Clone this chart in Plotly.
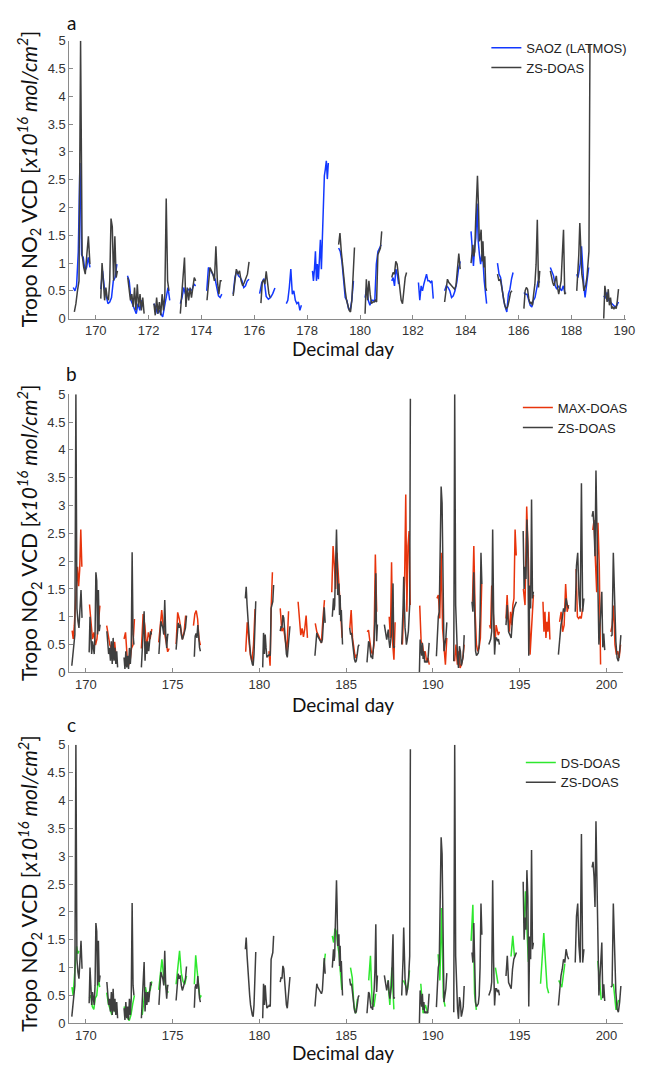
import numpy as np
import plotly.graph_objects as go

# ---------------- DATA ----------------
# ZS-DOAS (one daily segment per entry: start day, end day, values evenly sampled)
zs_start = [169.19, 170.19, 171.21, 172.20, 173.20, 174.21, 175.20, 176.25, 179.19, 180.19,
            181.20, 183.20, 184.20, 185.20, 186.20, 187.20, 188.20, 189.22, 190.20, 191.20,
            192.25, 193.22, 194.21, 195.20, 197.23, 198.20, 199.17, 200.25]
zs_end = [169.78, 170.82, 171.83, 172.77, 173.78, 174.77, 175.80, 176.60, 179.79, 180.82,
          181.76, 183.79, 184.79, 185.75, 186.80, 187.79, 188.70, 189.78, 190.80, 191.80,
          192.82, 193.83, 194.81, 195.79, 197.82, 198.70, 199.90, 200.83]
zs_vals = [
    [0.12, 0.27, 0.5, 0.68, 5.0, 1.15, 0.92, 0.8, 1.15, 1.48, 0.98],
    [0.36, 1.0, 0.68, 0.33, 0.56, 0.38, 0.33, 0.68, 1.8, 1.65, 0.68, 1.48, 0.74, 0.86],
    [0.74, 0.5, 0.33, 0.44, 0.21, 0.56, 0.15, 0.62, 0.21, 0.44, 0.15, 0.38, 0.09],
    [0.27, 0.06, 0.38, 0.09, 0.3, 0.06, 0.44, 0.15, 0.44, 2.16, 0.68, 0.5],
    [0.09, 0.44, 0.71, 1.1, 0.21, 0.56, 0.33, 0.56, 0.38, 0.62, 0.74, 0.68],
    [0.33, 0.62, 0.92, 0.86, 0.8, 0.68, 1.3, 0.68, 0.44, 0.68, 0.68],
    [0.41, 0.71, 0.89, 0.8, 0.86, 0.68, 0.59, 0.65, 0.71, 0.8, 1.02],
    [0.28, 0.65, 0.7, 0.62, 0.85, 0.6, 0.45, 0.38],
    [1.33, 1.54, 1.21, 0.92, 0.74, 0.5, 0.33, 0.21, 0.15, 0.12, 0.33, 0.8, 1.28],
    [0.09, 0.71, 0.33, 0.68, 0.44, 0.27, 0.3, 0.3, 0.33, 0.3, 1.15, 1.21, 1.27, 1.57],
    [0.74, 0.83, 0.8, 1.03, 0.98, 0.74, 0.5, 0.33, 0.27, 0.5, 0.74, 0.83],
    [0.3, 0.56, 0.71, 0.65, 0.62, 0.59, 0.56, 0.53, 0.59, 0.98, 1.17, 0.89],
    [1.0, 1.21, 1.33, 1.12, 1.21, 1.74, 2.16, 2.57, 2.09, 1.39, 1.45, 1.6, 1.03, 1.39, 0.92, 1.12, 0.56, 0.5],
    [0.8, 0.68, 0.71, 0.53, 0.38, 0.24, 0.18, 0.21, 0.33, 0.47, 0.5],
    [0.18, 0.5, 0.56, 0.53, 0.36, 0.27, 0.3, 0.24, 0.44, 0.62, 0.98, 1.78, 0.56, 0.86],
    [0.86, 0.74, 0.65, 0.59, 0.68, 0.77, 0.56, 0.44, 0.56, 0.68, 1.15, 1.6, 0.44, 0.47],
    [0.5, 0.74, 1.15, 1.72, 1.15, 0.8, 0.68, 0.5, 0.56, 0.62, 0.74, 0.98, 1.21, 4.92],
    [0.0, 0.59, 0.44, 0.3, 0.53, 0.24, 0.38, 0.18, 0.21, 0.18, 0.21, 0.18, 0.33, 0.53],
    [0.29, 0.85, 1.0, 1.09, 2.18, 3.34, 3.04, 2.0, 0.38, 0.5, 0.62, 0.9],
    [0.2, 5.0, 1.21, 0.5, 0.26, 0.08, 0.47, 0.38, 0.12, 0.2, 0.3, 0.67],
    [1.27, 1.09, 1.8, 0.85, 0.38, 0.3, 0.32, 0.35, 0.5, 1.0, 2.15, 1.59],
    [0.5, 0.56, 0.6, 0.74, 2.57, 1.09, 0.32, 0.62, 0.62, 0.56, 0.6, 0.5],
    [0.85, 1.21, 0.73, 0.67, 0.62, 0.97, 1.15, 1.21, 1.27],
    [2.54, 1.5, 1.9, 1.68, 2.75, 2.27, 0.3, 1.56, 1.15, 3.11, 1.33, 1.45],
    [0.32, 0.62, 0.85, 0.97, 1.15, 1.09, 1.33, 1.21, 1.15],
    [1.09, 1.92, 2.15, 1.39, 1.09, 3.4, 1.09, 1.33],
    [2.8, 2.9, 2.63, 2.09, 3.63, 2.27, 1.56, 0.5, 0.8, 1.15, 1.45, 0.45, 0.7, 0.4],
    [0.65, 0.67, 2.15, 1.09, 0.56, 0.26, 0.2, 0.38, 0.67],
]

# SAOZ (LATMOS)
saoz_start = [169.15, 170.19, 171.20, 172.20, 173.20, 174.20, 175.20, 176.20, 177.21, 178.20,
              179.19, 180.19, 181.20, 182.21, 183.20, 184.20, 185.20, 186.20, 187.20, 188.20, 189.22]
saoz_end = [169.78, 170.80, 171.80, 172.80, 173.78, 174.77, 175.80, 176.78, 177.78, 178.80,
            179.75, 180.80, 181.46, 182.77, 183.79, 184.79, 185.79, 186.80, 187.75, 188.65, 189.78]
saoz_vals = [
    [0.56, 0.5, 0.6, 1.2, 2.8, 1.15, 1.1, 0.86, 0.92, 1.1, 0.92],
    [0.53, 0.86, 0.56, 0.44, 0.27, 0.3, 0.38, 0.68, 0.74, 0.98],
    [0.77, 0.68, 0.33, 0.24, 0.15, 0.09, 0.27, 0.15, 0.33, 0.21],
    [0.27, 0.21, 0.09, 0.15, 0.09, 0.03, 0.21, 0.38, 0.56, 0.33],
    [0.27, 0.38, 0.56, 0.44, 0.5, 0.53, 0.5, 0.53, 0.62, 0.59],
    [0.5, 0.92, 0.89, 0.83, 0.77, 0.71, 0.56, 0.41, 0.38, 0.44],
    [0.44, 0.74, 0.86, 0.77, 0.74, 0.68, 0.56, 0.59, 0.68, 0.71],
    [0.45, 0.65, 0.72, 0.4, 0.35, 0.38, 0.45, 0.55],
    [0.27, 0.33, 0.56, 0.89, 0.44, 0.5, 0.33, 0.27, 0.3, 0.15, 0.24],
    [0.86, 0.68, 0.89, 1.21, 0.68, 0.98, 0.71, 1.09, 1.42, 0.89, 1.42, 2.1, 2.57, 2.69, 2.84, 2.51, 2.8],
    [1.27, 1.21, 1.03, 0.68, 0.38, 0.33, 0.18, 0.15, 0.33, 0.68],
    [0.38, 0.56, 0.33, 0.24, 0.33, 0.33, 0.3, 0.98, 1.21, 1.27, 1.33],
    [0.68, 0.74, 0.59, 0.89, 0.8, 0.62],
    [0.65, 0.33, 0.59, 0.5, 0.62, 0.74, 0.8, 0.68, 0.68, 0.65, 0.68, 0.36],
    [0.5, 0.59, 0.56, 0.5, 0.38, 0.41, 0.5, 0.65, 0.89, 1.03],
    [1.57, 1.27, 0.95, 1.27, 1.45, 2.07, 1.39, 1.15, 0.98, 1.15, 1.03, 0.68, 0.44, 0.27],
    [1.0, 0.8, 0.74, 0.5, 0.33, 0.21, 0.12, 0.44, 0.53, 0.71, 0.83],
    [0.47, 0.44, 0.44, 0.33, 0.24, 0.21, 0.33, 0.38, 0.56, 0.68, 0.65],
    [0.92, 0.86, 0.77, 0.59, 0.53, 0.59, 0.53, 0.5, 0.59, 0.47],
    [0.8, 0.74, 0.86, 1.0, 1.3, 0.86, 0.59, 0.38, 0.56, 0.74, 0.92],
    [0.41, 0.38, 0.47, 0.33, 0.3, 0.27, 0.24, 0.21, 0.24, 0.3],
]

# MAX-DOAS
max_start = [169.21, 170.21, 171.20, 172.20, 173.20, 174.20, 175.20, 176.20, 179.21, 180.55,
             181.20, 182.23, 183.22, 184.17, 185.21, 186.21, 187.48, 188.24, 189.24, 190.23,
             191.25, 192.28, 193.26, 194.21, 195.21, 196.34, 197.30, 198.25, 199.21, 200.25]
max_end = [169.77, 170.81, 171.75, 172.80, 173.80, 174.80, 175.75, 176.60, 179.75, 180.75,
           181.68, 182.77, 183.75, 184.77, 185.60, 186.76, 187.82, 188.69, 189.79, 190.80,
           191.80, 192.81, 193.83, 194.80, 195.79, 196.74, 197.82, 198.62, 199.66, 200.81]
max_vals = [
    [0.75, 0.6, 0.84, 1.14, 1.55, 1.9, 1.55, 1.85, 2.57, 1.9],
    [1.22, 0.84, 0.6, 0.72, 0.49, 0.6, 0.84, 1.2],
    [0.84, 0.66, 0.49, 0.43, 0.31, 0.55, 0.25],
    [0.6, 0.72, 0.31, 0.13, 0.19, 0.43, 0.49, 0.96],
    [0.43, 1.05, 0.84, 0.43, 0.72, 0.6, 0.78],
    [0.54, 0.9, 1.12, 0.84, 0.72, 0.54, 0.37, 0.43],
    [0.51, 1.08, 0.96, 0.78, 0.6, 0.72, 1.02],
    [0.84, 1.05, 1.11, 0.96, 0.6, 0.49],
    [0.37, 0.9, 0.6, 0.31, 0.19, 0.49, 1.14],
    [0.38, 0.12, 1.2, 1.8],
    [1.15, 0.74, 0.8, 0.62, 0.38, 1.1],
    [1.27, 0.91, 0.67, 0.79, 0.64, 0.79, 1.02, 0.62],
    [0.88, 0.73, 0.67, 0.58, 0.53, 0.97, 1.3],
    [1.44, 2.27, 1.92, 1.5, 2.15, 1.8, 1.44, 1.09, 0.62],
    [0.79, 1.12, 0.62, 0.38, 0.26, 0.32],
    [0.73, 0.76, 0.56, 0.38, 0.32, 0.5, 2.12, 1.09],
    [1.0, 0.62, 1.98, 0.5, 0.23, 0.9],
    [0.5, 1.09, 1.68, 3.2, 1.09, 2.27, 2.54, 1.21],
    [1.2, 0.56, 0.5, 0.32, 0.38, 0.2, 0.26, 0.14],
    [1.33, 1.39, 0.97, 2.15, 0.79, 0.5, 0.14, 0.62],
    [0.2, 0.5, 0.14, 0.38, 0.08, 0.14, 0.26, 0.5],
    [1.27, 2.27, 1.09, 0.5, 0.38, 0.44, 0.62, 1.59],
    [0.85, 0.79, 1.56, 1.15, 0.97, 0.5, 0.85, 0.73, 0.67, 0.73],
    [0.97, 1.39, 0.97, 0.73, 1.09, 0.85, 1.21, 1.33, 2.57, 2.1],
    [1.5, 1.21, 2.98, 2.03, 0.32, 0.97, 1.39],
    [1.27, 0.73, 1.09, 0.62, 0.91, 0.73, 1.09, 0.59],
    [0.91, 1.09, 0.73, 0.85, 1.59, 1.09, 1.21],
    [1.86, 1.0, 0.97, 1.0, 0.97, 1.15],
    [2.56, 2.74, 2.03, 1.44, 2.69, 1.92, 0.14],
    [0.73, 0.85, 1.2, 0.5, 0.32, 0.38, 0.26, 0.5],
]

# DS-DOAS
ds_start = [169.20, 170.20, 171.20, 172.20, 173.25, 174.20, 175.20, 176.25, 183.70, 184.20,
            185.25, 186.30, 187.40, 188.30, 189.30, 190.30, 192.20, 193.60, 194.50, 195.25,
            196.20, 197.25, 199.50, 200.40]
ds_end = [169.60, 170.80, 171.80, 172.80, 173.80, 174.75, 175.80, 176.65, 183.80, 184.75,
          185.65, 186.70, 187.75, 188.65, 189.70, 190.70, 192.50, 193.75, 194.70, 195.50,
          196.67, 197.60, 199.70, 200.70]
ds_vals = [
    [0.65, 0.5, 0.8, 1.2, 1.38, 1.25, 1.3],
    [0.45, 0.5, 0.3, 0.25, 0.45, 0.5, 0.8, 0.65],
    [0.55, 0.35, 0.25, 0.15, 0.3, 0.2, 0.25],
    [0.3, 0.2, 0.1, 0.05, 0.15, 0.35, 0.5],
    [0.15, 0.45, 0.65, 0.5, 0.55, 0.6, 0.75],
    [0.6, 0.95, 1.15, 0.85, 0.7, 0.6, 0.55],
    [0.7, 1.0, 1.3, 0.9, 0.75, 0.7, 0.85],
    [0.7, 1.22, 0.95, 0.75, 0.45, 0.5],
    [1.0, 1.25],
    [1.57, 1.45, 1.7, 1.65, 1.4, 1.24, 0.9, 0.6],
    [1.0, 0.82, 0.3, 0.18, 0.44],
    [0.77, 1.21, 0.35, 0.3, 0.53],
    [0.77, 0.33, 1.0, 0.25],
    [0.77, 0.68, 0.6, 0.95],
    [0.71, 0.18, 0.33, 0.18],
    [1.24, 0.77, 2.07, 0.47, 0.3],
    [1.48, 2.13, 0.53, 0.24],
    [1.0, 0.71],
    [1.2, 1.57, 1.2],
    [1.8, 2.37, 1.7, 1.1],
    [0.71, 1.3, 1.62, 1.12, 0.65, 0.54],
    [0.77, 0.65, 1.07],
    [1.12, 0.83, 0.42],
    [0.71, 0.24, 0.42],
]

ticks_a = [170, 172, 174, 176, 178, 180, 182, 184, 186, 188, 190]
ticks_bc = [170, 175, 180, 185, 190, 195, 200]
y_ticks = [0, 0.5, 1, 1.5, 2, 2.5, 3, 3.5, 4, 4.5, 5]
panel_labels = ["a", "b", "c"]


def build(starts, ends, vals):
    xs, ys = [], []
    for a, b, v in zip(starts, ends, vals):
        xs += list(np.linspace(a, b, len(v)))
        ys += list(v)
        xs.append(None)
        ys.append(None)
    return xs, ys


zs_x, zs_y = build(zs_start, zs_end, zs_vals)
saoz_x, saoz_y = build(saoz_start, saoz_end, saoz_vals)
max_x, max_y = build(max_start, max_end, max_vals)
ds_x, ds_y = build(ds_start, ds_end, ds_vals)

# page body has an 8px default margin: the figure is sized to end at the window edge
OFF = 8
W, H = 645 - OFF, 1071 - OFF
BLUE = "#1238ff"
GRAY = "#3f3f3f"
RED = "#e8340c"
GREEN = "#2ee82e"

fig = go.Figure()
LW = 1.5
fig.add_trace(go.Scatter(x=saoz_x, y=saoz_y, mode="lines", name="SAOZ (LATMOS)",
                         line=dict(color=BLUE, width=LW), xaxis="x", yaxis="y", legend="legend"))
fig.add_trace(go.Scatter(x=zs_x, y=zs_y, mode="lines", name="ZS-DOAS",
                         line=dict(color=GRAY, width=LW), xaxis="x", yaxis="y", legend="legend"))
fig.add_trace(go.Scatter(x=max_x, y=max_y, mode="lines", name="MAX-DOAS",
                         line=dict(color=RED, width=LW), xaxis="x2", yaxis="y2", legend="legend2"))
fig.add_trace(go.Scatter(x=zs_x, y=zs_y, mode="lines", name="ZS-DOAS",
                         line=dict(color=GRAY, width=LW), xaxis="x2", yaxis="y2", legend="legend2"))
fig.add_trace(go.Scatter(x=ds_x, y=ds_y, mode="lines", name="DS-DOAS",
                         line=dict(color=GREEN, width=LW), xaxis="x3", yaxis="y3", legend="legend3"))
fig.add_trace(go.Scatter(x=zs_x, y=zs_y, mode="lines", name="ZS-DOAS",
                         line=dict(color=GRAY, width=LW), xaxis="x3", yaxis="y3", legend="legend3"))


def px_x(p):
    return (p - OFF) / W


def px_y(p):
    return 1 - (p - OFF) / H


tickfont = dict(family="Liberation Sans, Arial, sans-serif", size=13, color="#333333")
axis_common = dict(showline=True, linecolor="#8a8a8a", linewidth=1, ticks="inside", ticklen=4,
                   tickcolor="#8a8a8a", showgrid=False, zeroline=False, tickfont=tickfont,
                   mirror=False, ticklabeloverflow="allow")

# panel pixel geometry (window pixels): (x_left, x_right, y_top(v=5), y_bottom(v=0))
panels = [(70.3, 635.5, 34.0, 316.0), (70.0, 633.3, 392.7, 674.8), (70.0, 633.3, 748.3, 1030.7)]
xranges = [[169.0, 190.05], [169.03, 200.98], [169.03, 200.98]]
xticks = [ticks_a, ticks_bc, ticks_bc]

layout = dict(width=W, height=H, margin=dict(l=0, r=0, t=0, b=0),
              paper_bgcolor="white", plot_bgcolor="white", showlegend=True)
for i, (xl, xr, yt, yb) in enumerate(panels):
    sfx = "" if i == 0 else str(i + 1)
    layout["xaxis" + sfx] = dict(axis_common, domain=[px_x(xl), px_x(xr)], range=xranges[i],
                                 tickvals=xticks[i], anchor="y" + sfx)
    layout["yaxis" + sfx] = dict(axis_common, domain=[px_y(yb), px_y(yt)], range=[0, 5],
                                 tickvals=y_ticks, ticktext=[f"{t:g}" for t in y_ticks],
                                 anchor="x" + sfx)

leg_font = dict(family="Liberation Sans, Arial, sans-serif", size=13, color="#222222")
leg_pos = [(494, 26), (526, 391), (529, 751)]
for i, (lx, ly) in enumerate(leg_pos):
    key = "legend" if i == 0 else "legend" + str(i + 1)
    layout[key] = dict(x=px_x(lx), y=px_y(ly), xanchor="left", yanchor="top",
                       bgcolor="rgba(0,0,0,0)", font=leg_font, tracegroupgap=0,
                       itemwidth=30)

fig.update_layout(**layout)

ytitle = "Tropo NO<sub>2</sub> VCD [<i>x10<sup>16</sup> mol/cm<sup>2</sup></i>]"
title_font = dict(family="Lato, Open Sans, sans-serif", size=19, color="#111111")
xtitle_y = [346, 707, 1060]
label_y = [16, 372, 728]
for i, (xl, xr, yt, yb) in enumerate(panels):
    fig.add_annotation(text=ytitle, xref="paper", yref="paper", x=px_x(29), y=px_y((yt + yb) / 2),
                       textangle=-90, showarrow=False, font=dict(title_font, size=21),
                       xanchor="center", yanchor="middle")
    fig.add_annotation(text="Decimal day", xref="paper", yref="paper", x=px_x(348), y=px_y(xtitle_y[i]),
                       showarrow=False, font=title_font, xanchor="center", yanchor="middle")
    fig.add_annotation(text=panel_labels[i], xref="paper", yref="paper", x=px_x(73), y=px_y(label_y[i]),
                       showarrow=False, font=dict(title_font, size=19), xanchor="center", yanchor="middle")

fig.write_html("out.html")
